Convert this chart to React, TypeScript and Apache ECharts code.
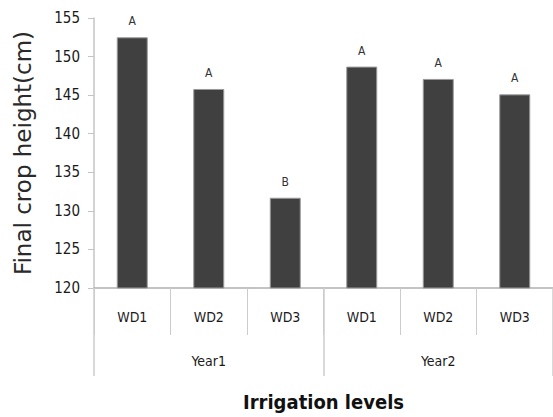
import React, { useEffect, useRef } from "react";
import * as echarts from "echarts";

const treatments = ["WD1", "WD2", "WD3", "WD1", "WD2", "WD3"];
const years = ["Year1", "Year2"];
const heights = [152.5, 145.8, 131.7, 148.7, 147.1, 145.1];
const letters = ["A", "A", "B", "A", "A", "A"];
const yTicks = { min: 120, max: 155, interval: 5 };

const narrow = "'DejaVu Sans Condensed', 'Liberation Sans Narrow', sans-serif";

export default function App() {
  const ref = useRef<HTMLDivElement>(null);
  useEffect(() => {
    if (!ref.current) return;
    const chart = echarts.init(ref.current, null, { renderer: "svg" });
    chart.setOption({
      animation: false,
      backgroundColor: "#ffffff",
      grid: { left: 94, top: 18, width: 463, height: 272, containLabel: false },
      xAxis: [
        {
          type: "category",
          data: treatments,
          position: "bottom",
          axisLine: { show: true, lineStyle: { color: "#b0b0b0", width: 1.5 } },
          axisTick: { show: true, interval: 0, length: 47, lineStyle: { color: "#cccccc", width: 1 } },
          axisLabel: { interval: 0, margin: 22, fontFamily: narrow, fontSize: 14, color: "#1a1a1a" },
        },
        {
          type: "category",
          data: years,
          position: "bottom",
          axisLine: { show: false },
          axisTick: { show: true, interval: 0, length: 88, lineStyle: { color: "#cccccc", width: 1.5 } },
          axisLabel: { interval: 0, margin: 66, fontFamily: narrow, fontSize: 14, color: "#1a1a1a" },
          name: "Irrigation levels",
          nameLocation: "middle",
          nameGap: 104,
          nameTextStyle: { fontFamily: narrow, fontSize: 20, color: "#111111", fontWeight: "bold" },
        },
      ],
      yAxis: {
        type: "value",
        min: yTicks.min,
        max: yTicks.max,
        interval: yTicks.interval,
        splitLine: { show: false },
        axisLine: { show: true, lineStyle: { color: "#c4c4c4", width: 1.5 } },
        axisTick: { show: true, length: 6, lineStyle: { color: "#c4c4c4" } },
        axisLabel: { margin: 14, fontFamily: narrow, fontSize: 15, color: "#1a1a1a" },
        name: "Final crop height(cm)",
        nameLocation: "middle",
        nameRotate: 90,
        nameGap: 60,
        nameTextStyle: { fontFamily: "'DejaVu Sans', sans-serif", fontSize: 23, color: "#2a2a2a" },
      },
      series: [
        {
          type: "bar",
          xAxisIndex: 0,
          data: heights,
          barWidth: 31,
          itemStyle: { color: "#404040", borderColor: "#9a9a9a", borderWidth: 1 },
          label: {
            show: true,
            position: "top",
            distance: 10,
            formatter: (p: any) => letters[p.dataIndex],
            fontFamily: narrow,
            fontSize: 12,
            color: "#333333",
          },
        },
      ],
    });
    return () => chart.dispose();
  }, []);
  return (
    <div
      ref={ref}
      style={{ position: "fixed", left: 0, top: 0, width: 553, height: 417, background: "#fff" }}
    />
  );
}
